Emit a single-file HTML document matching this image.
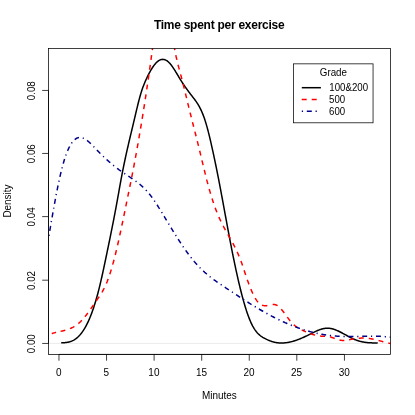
<!DOCTYPE html>
<html><head><meta charset="utf-8"><title>Time spent per exercise</title>
<style>
html,body{margin:0;padding:0;background:#fff;}
svg{display:block;will-change:transform;}
text{font-family:"Liberation Sans",sans-serif;fill:#000;}
</style></head>
<body>
<svg width="415" height="415" viewBox="0 0 415 415">
<rect x="0" y="0" width="415" height="415" fill="#ffffff"/>
<defs><clipPath id="plot"><rect x="48.50" y="48.50" width="342.00" height="305.90"/></clipPath></defs>
<line x1="48.50" y1="343.45" x2="390.50" y2="343.45" stroke="#bebebe" stroke-width="0.3"/>
<g clip-path="url(#plot)" fill="none" stroke-width="1.5" stroke-linecap="butt" stroke-linejoin="round">
<path d="M61.20 342.69 L61.70 342.70 L62.20 342.70 L62.70 342.70 L63.20 342.70 L63.70 342.68 L64.20 342.66 L64.70 342.64 L65.20 342.60 L65.70 342.55 L66.20 342.50 L66.70 342.43 L67.20 342.35 L67.70 342.26 L68.20 342.16 L68.70 342.05 L69.20 341.93 L69.70 341.79 L70.20 341.63 L70.70 341.46 L71.20 341.28 L71.70 341.08 L72.20 340.86 L72.70 340.62 L73.20 340.37 L73.70 340.10 L74.20 339.81 L74.70 339.50 L75.20 339.17 L75.70 338.82 L76.20 338.45 L76.70 338.05 L77.20 337.64 L77.70 337.20 L78.20 336.73 L78.70 336.25 L79.20 335.73 L79.70 335.20 L80.20 334.63 L80.70 334.04 L81.20 333.42 L81.70 332.78 L82.20 332.10 L82.70 331.40 L83.20 330.67 L83.70 329.90 L84.20 329.11 L84.70 328.29 L85.20 327.43 L85.70 326.54 L86.20 325.62 L86.70 324.66 L87.20 323.67 L87.70 322.65 L88.20 321.59 L88.70 320.49 L89.20 319.36 L89.70 318.19 L90.20 316.98 L90.70 315.73 L91.20 314.45 L91.70 313.12 L92.20 311.76 L92.70 310.35 L93.20 308.91 L93.70 307.42 L94.20 305.89 L94.70 304.31 L95.20 302.69 L95.70 301.03 L96.20 299.33 L96.70 297.57 L97.20 295.78 L97.70 293.93 L98.20 292.04 L98.70 290.10 L99.20 288.12 L99.70 286.08 L100.20 284.00 L100.70 281.87 L101.20 279.70 L101.70 277.49 L102.20 275.25 L102.70 272.98 L103.20 270.68 L103.70 268.35 L104.20 266.01 L104.70 263.64 L105.20 261.27 L105.70 258.88 L106.20 256.48 L106.70 254.08 L107.20 251.68 L107.70 249.27 L108.20 246.85 L108.70 244.43 L109.20 242.00 L109.70 239.56 L110.20 237.11 L110.70 234.64 L111.20 232.16 L111.70 229.67 L112.20 227.16 L112.70 224.64 L113.20 222.09 L113.70 219.53 L114.20 216.94 L114.70 214.33 L115.20 211.70 L115.70 209.04 L116.20 206.36 L116.70 203.64 L117.20 200.90 L117.70 198.13 L118.20 195.35 L118.70 192.55 L119.20 189.74 L119.70 186.95 L120.20 184.18 L120.70 181.43 L121.20 178.72 L121.70 176.06 L122.20 173.45 L122.70 170.89 L123.20 168.38 L123.70 165.92 L124.20 163.49 L124.70 161.10 L125.20 158.76 L125.70 156.44 L126.20 154.16 L126.70 151.91 L127.20 149.69 L127.70 147.49 L128.20 145.31 L128.70 143.16 L129.20 141.02 L129.70 138.90 L130.20 136.79 L130.70 134.68 L131.20 132.59 L131.70 130.50 L132.20 128.41 L132.70 126.32 L133.20 124.23 L133.70 122.13 L134.20 120.02 L134.70 117.90 L135.20 115.78 L135.70 113.65 L136.20 111.53 L136.70 109.42 L137.20 107.33 L137.70 105.27 L138.20 103.26 L138.70 101.28 L139.20 99.36 L139.70 97.50 L140.20 95.71 L140.70 94.00 L141.20 92.36 L141.70 90.80 L142.20 89.30 L142.70 87.87 L143.20 86.50 L143.70 85.19 L144.20 83.92 L144.70 82.71 L145.20 81.53 L145.70 80.40 L146.20 79.30 L146.70 78.22 L147.20 77.18 L147.70 76.15 L148.20 75.15 L148.70 74.17 L149.20 73.21 L149.70 72.28 L150.20 71.37 L150.70 70.49 L151.20 69.64 L151.70 68.81 L152.20 68.02 L152.70 67.25 L153.20 66.52 L153.70 65.81 L154.20 65.14 L154.70 64.50 L155.20 63.90 L155.70 63.33 L156.20 62.79 L156.70 62.30 L157.20 61.84 L157.70 61.42 L158.20 61.04 L158.70 60.69 L159.20 60.39 L159.70 60.13 L160.20 59.90 L160.70 59.72 L161.20 59.57 L161.70 59.47 L162.20 59.40 L162.70 59.37 L163.20 59.39 L163.70 59.44 L164.20 59.53 L164.70 59.67 L165.20 59.84 L165.70 60.05 L166.20 60.31 L166.70 60.60 L167.20 60.94 L167.70 61.32 L168.20 61.73 L168.70 62.19 L169.20 62.69 L169.70 63.23 L170.20 63.80 L170.70 64.40 L171.20 65.03 L171.70 65.70 L172.20 66.38 L172.70 67.10 L173.20 67.83 L173.70 68.59 L174.20 69.36 L174.70 70.15 L175.20 70.96 L175.70 71.77 L176.20 72.60 L176.70 73.43 L177.20 74.26 L177.70 75.10 L178.20 75.94 L178.70 76.78 L179.20 77.62 L179.70 78.45 L180.20 79.27 L180.70 80.09 L181.20 80.89 L181.70 81.68 L182.20 82.45 L182.70 83.22 L183.20 83.97 L183.70 84.72 L184.20 85.45 L184.70 86.18 L185.20 86.90 L185.70 87.60 L186.20 88.30 L186.70 89.00 L187.20 89.68 L187.70 90.36 L188.20 91.04 L188.70 91.71 L189.20 92.37 L189.70 93.03 L190.20 93.69 L190.70 94.35 L191.20 95.00 L191.70 95.65 L192.20 96.30 L192.70 96.95 L193.20 97.59 L193.70 98.24 L194.20 98.90 L194.70 99.56 L195.20 100.24 L195.70 100.93 L196.20 101.64 L196.70 102.37 L197.20 103.12 L197.70 103.90 L198.20 104.71 L198.70 105.56 L199.20 106.43 L199.70 107.35 L200.20 108.31 L200.70 109.31 L201.20 110.37 L201.70 111.47 L202.20 112.63 L202.70 113.84 L203.20 115.11 L203.70 116.45 L204.20 117.85 L204.70 119.32 L205.20 120.86 L205.70 122.47 L206.20 124.14 L206.70 125.88 L207.20 127.67 L207.70 129.52 L208.20 131.43 L208.70 133.38 L209.20 135.39 L209.70 137.44 L210.20 139.54 L210.70 141.67 L211.20 143.85 L211.70 146.06 L212.20 148.30 L212.70 150.58 L213.20 152.88 L213.70 155.21 L214.20 157.56 L214.70 159.93 L215.20 162.32 L215.70 164.73 L216.20 167.16 L216.70 169.62 L217.20 172.10 L217.70 174.60 L218.20 177.13 L218.70 179.69 L219.20 182.28 L219.70 184.89 L220.20 187.53 L220.70 190.19 L221.20 192.86 L221.70 195.55 L222.20 198.25 L222.70 200.95 L223.20 203.67 L223.70 206.38 L224.20 209.10 L224.70 211.82 L225.20 214.54 L225.70 217.25 L226.20 219.97 L226.70 222.67 L227.20 225.37 L227.70 228.06 L228.20 230.74 L228.70 233.40 L229.20 236.05 L229.70 238.69 L230.20 241.31 L230.70 243.91 L231.20 246.48 L231.70 249.04 L232.20 251.57 L232.70 254.08 L233.20 256.56 L233.70 259.02 L234.20 261.45 L234.70 263.85 L235.20 266.22 L235.70 268.57 L236.20 270.88 L236.70 273.17 L237.20 275.42 L237.70 277.64 L238.20 279.83 L238.70 281.99 L239.20 284.11 L239.70 286.20 L240.20 288.25 L240.70 290.27 L241.20 292.25 L241.70 294.19 L242.20 296.10 L242.70 297.97 L243.20 299.79 L243.70 301.58 L244.20 303.32 L244.70 305.03 L245.20 306.69 L245.70 308.31 L246.20 309.88 L246.70 311.41 L247.20 312.90 L247.70 314.34 L248.20 315.73 L248.70 317.08 L249.20 318.37 L249.70 319.62 L250.20 320.82 L250.70 321.97 L251.20 323.07 L251.70 324.11 L252.20 325.11 L252.70 326.06 L253.20 326.96 L253.70 327.81 L254.20 328.62 L254.70 329.39 L255.20 330.12 L255.70 330.81 L256.20 331.46 L256.70 332.07 L257.20 332.65 L257.70 333.20 L258.20 333.72 L258.70 334.21 L259.20 334.68 L259.70 335.11 L260.20 335.52 L260.70 335.91 L261.20 336.28 L261.70 336.63 L262.20 336.96 L262.70 337.28 L263.20 337.58 L263.70 337.87 L264.20 338.15 L264.70 338.42 L265.20 338.68 L265.70 338.94 L266.20 339.18 L266.70 339.43 L267.20 339.66 L267.70 339.89 L268.20 340.11 L268.70 340.32 L269.20 340.53 L269.70 340.73 L270.20 340.92 L270.70 341.10 L271.20 341.27 L271.70 341.44 L272.20 341.60 L272.70 341.75 L273.20 341.89 L273.70 342.02 L274.20 342.15 L274.70 342.26 L275.20 342.37 L275.70 342.47 L276.20 342.56 L276.70 342.64 L277.20 342.71 L277.70 342.77 L278.20 342.83 L278.70 342.88 L279.20 342.92 L279.70 342.95 L280.20 342.97 L280.70 342.99 L281.20 343.00 L281.70 343.00 L282.20 343.00 L282.70 342.98 L283.20 342.96 L283.70 342.94 L284.20 342.90 L284.70 342.86 L285.20 342.81 L285.70 342.76 L286.20 342.70 L286.70 342.63 L287.20 342.56 L287.70 342.48 L288.20 342.39 L288.70 342.30 L289.20 342.20 L289.70 342.10 L290.20 341.99 L290.70 341.88 L291.20 341.76 L291.70 341.63 L292.20 341.50 L292.70 341.36 L293.20 341.22 L293.70 341.07 L294.20 340.92 L294.70 340.76 L295.20 340.60 L295.70 340.44 L296.20 340.27 L296.70 340.09 L297.20 339.91 L297.70 339.73 L298.20 339.54 L298.70 339.35 L299.20 339.15 L299.70 338.95 L300.20 338.75 L300.70 338.54 L301.20 338.33 L301.70 338.12 L302.20 337.90 L302.70 337.68 L303.20 337.46 L303.70 337.23 L304.20 337.00 L304.70 336.77 L305.20 336.53 L305.70 336.30 L306.20 336.06 L306.70 335.81 L307.20 335.57 L307.70 335.32 L308.20 335.07 L308.70 334.82 L309.20 334.57 L309.70 334.31 L310.20 334.06 L310.70 333.80 L311.20 333.55 L311.70 333.30 L312.20 333.05 L312.70 332.80 L313.20 332.55 L313.70 332.30 L314.20 332.06 L314.70 331.82 L315.20 331.59 L315.70 331.36 L316.20 331.13 L316.70 330.91 L317.20 330.69 L317.70 330.48 L318.20 330.28 L318.70 330.08 L319.20 329.89 L319.70 329.71 L320.20 329.54 L320.70 329.37 L321.20 329.22 L321.70 329.07 L322.20 328.94 L322.70 328.81 L323.20 328.69 L323.70 328.59 L324.20 328.49 L324.70 328.41 L325.20 328.34 L325.70 328.29 L326.20 328.24 L326.70 328.22 L327.20 328.20 L327.70 328.20 L328.20 328.21 L328.70 328.24 L329.20 328.28 L329.70 328.34 L330.20 328.41 L330.70 328.49 L331.20 328.59 L331.70 328.70 L332.20 328.82 L332.70 328.95 L333.20 329.09 L333.70 329.24 L334.20 329.40 L334.70 329.58 L335.20 329.76 L335.70 329.95 L336.20 330.15 L336.70 330.35 L337.20 330.57 L337.70 330.79 L338.20 331.01 L338.70 331.25 L339.20 331.49 L339.70 331.73 L340.20 331.98 L340.70 332.24 L341.20 332.50 L341.70 332.76 L342.20 333.02 L342.70 333.29 L343.20 333.56 L343.70 333.84 L344.20 334.11 L344.70 334.39 L345.20 334.66 L345.70 334.94 L346.20 335.22 L346.70 335.50 L347.20 335.77 L347.70 336.05 L348.20 336.32 L348.70 336.59 L349.20 336.86 L349.70 337.12 L350.20 337.38 L350.70 337.64 L351.20 337.90 L351.70 338.15 L352.20 338.39 L352.70 338.63 L353.20 338.86 L353.70 339.09 L354.20 339.31 L354.70 339.52 L355.20 339.72 L355.70 339.92 L356.20 340.11 L356.70 340.29 L357.20 340.46 L357.70 340.63 L358.20 340.79 L358.70 340.94 L359.20 341.09 L359.70 341.22 L360.20 341.36 L360.70 341.48 L361.20 341.60 L361.70 341.71 L362.20 341.82 L362.70 341.92 L363.20 342.01 L363.70 342.10 L364.20 342.19 L364.70 342.27 L365.20 342.34 L365.70 342.41 L366.20 342.47 L366.70 342.53 L367.20 342.58 L367.70 342.63 L368.20 342.67 L368.70 342.71 L369.20 342.75 L369.70 342.78 L370.20 342.81 L370.70 342.83 L371.20 342.86 L371.70 342.87 L372.20 342.89 L372.70 342.90 L373.20 342.91 L373.70 342.91 L374.20 342.91 L374.70 342.91 L375.20 342.91 L375.70 342.91 L376.20 342.90 L376.70 342.89 L377.20 342.88 L377.70 342.87" stroke="#000000"/>
<path d="M45.00 336.51 L45.44 336.26 L45.87 336.02 L46.32 335.79 L46.76 335.57 L47.21 335.35 M51.73 333.58 L52.20 333.43 L52.68 333.28 L53.16 333.14 L53.64 333.01 L54.12 332.87 L54.61 332.75 L55.09 332.62 L55.58 332.50 L56.06 332.38 L56.11 332.37 M60.65 331.35 L61.13 331.24 L61.62 331.12 L62.11 331.01 L62.60 330.90 L63.08 330.78 L63.57 330.66 L64.05 330.54 L64.54 330.41 L65.02 330.28 L65.31 330.20 M70.04 328.59 L70.50 328.40 L70.96 328.20 L71.41 327.99 L71.86 327.78 L72.31 327.56 L72.76 327.33 L73.20 327.09 L73.64 326.85 L74.07 326.60 L74.37 326.42 M78.36 323.59 L78.74 323.27 L79.12 322.94 L79.50 322.61 L79.86 322.27 L80.23 321.92 L80.59 321.58 L80.94 321.23 L81.29 320.87 L81.64 320.51 L81.78 320.36 M84.90 316.78 L85.21 316.40 L85.52 316.00 L85.83 315.61 L86.14 315.22 L86.45 314.82 L86.75 314.43 L87.06 314.03 L87.36 313.63 L87.66 313.23 L87.81 313.03 M90.70 309.01 L90.98 308.60 L91.27 308.19 L91.55 307.78 L91.84 307.37 L92.12 306.96 L92.40 306.54 L92.69 306.13 L92.97 305.72 L93.25 305.31 L93.48 304.98 M96.32 300.80 L96.60 300.39 L96.88 299.97 L97.16 299.56 L97.45 299.15 L97.73 298.74 L98.01 298.32 L98.29 297.91 L98.58 297.50 L98.86 297.09 L99.11 296.71 M101.84 292.46 L102.10 292.04 L102.35 291.60 L102.60 291.17 L102.85 290.74 L103.09 290.30 L103.33 289.86 L103.57 289.42 L103.80 288.98 L104.03 288.54 L104.24 288.14 M106.37 283.56 L106.56 283.10 L106.75 282.63 L106.94 282.17 L107.13 281.71 L107.31 281.24 L107.49 280.78 L107.67 280.31 L107.85 279.84 L108.02 279.37 L108.18 278.95 M109.83 274.18 L109.98 273.70 L110.13 273.23 L110.29 272.75 L110.44 272.27 L110.59 271.80 L110.73 271.32 L110.88 270.84 L111.03 270.36 L111.17 269.88 L111.30 269.45 M112.70 264.60 L112.84 264.12 L112.97 263.64 L113.10 263.16 L113.23 262.67 L113.37 262.19 L113.50 261.71 L113.62 261.23 L113.75 260.74 L113.88 260.26 L114.00 259.82 M115.24 254.93 L115.37 254.45 L115.49 253.96 L115.60 253.47 L115.72 252.99 L115.84 252.50 L115.96 252.02 L116.08 251.53 L116.19 251.04 L116.31 250.56 L116.41 250.12 M117.56 245.20 L117.68 244.72 L117.79 244.23 L117.90 243.74 L118.01 243.25 L118.12 242.77 L118.23 242.28 L118.34 241.79 L118.45 241.30 L118.56 240.81 L118.66 240.38 M119.74 235.44 L119.85 234.95 L119.95 234.47 L120.06 233.98 L120.16 233.49 L120.27 233.00 L120.38 232.51 L120.48 232.02 L120.58 231.53 L120.69 231.04 L120.78 230.60 M121.82 225.71 L121.92 225.22 L122.02 224.73 L122.13 224.24 L122.23 223.76 L122.33 223.27 L122.43 222.78 L122.53 222.29 L122.64 221.80 L122.74 221.31 L122.82 220.92 M123.83 216.02 L123.93 215.53 L124.03 215.04 L124.13 214.55 L124.23 214.06 L124.34 213.57 L124.44 213.08 L124.54 212.59 L124.64 212.10 L124.74 211.61 L124.82 211.22 M125.81 206.37 L125.91 205.88 L126.01 205.39 L126.11 204.90 L126.21 204.41 L126.31 203.92 L126.41 203.43 L126.51 202.94 L126.61 202.45 L126.71 201.96 L126.79 201.57 M127.79 196.67 L127.89 196.18 L127.99 195.69 L128.09 195.20 L128.19 194.71 L128.29 194.22 L128.39 193.73 L128.49 193.24 L128.59 192.75 L128.69 192.26 L128.77 191.87 M129.77 186.97 L129.87 186.48 L129.97 185.99 L130.07 185.50 L130.16 185.01 L130.26 184.52 L130.36 184.03 L130.46 183.54 L130.56 183.05 L130.66 182.56 L130.73 182.17 M131.71 177.26 L131.80 176.77 L131.90 176.28 L132.00 175.79 L132.09 175.30 L132.19 174.81 L132.28 174.32 L132.38 173.83 L132.47 173.34 L132.57 172.84 L132.64 172.45 M133.59 167.54 L133.68 167.05 L133.77 166.56 L133.87 166.07 L133.96 165.58 L134.05 165.09 L134.14 164.59 L134.24 164.10 L134.33 163.61 L134.42 163.12 L134.49 162.73 M135.41 157.81 L135.50 157.32 L135.59 156.83 L135.68 156.33 L135.77 155.84 L135.86 155.35 L135.95 154.86 L136.04 154.37 L136.13 153.88 L136.21 153.38 L136.29 152.99 M137.17 148.07 L137.26 147.58 L137.35 147.08 L137.43 146.59 L137.52 146.10 L137.61 145.61 L137.70 145.12 L137.78 144.62 L137.87 144.13 L137.96 143.64 L138.02 143.24 M138.88 138.32 L138.97 137.83 L139.05 137.33 L139.14 136.84 L139.22 136.35 L139.31 135.85 L139.39 135.36 L139.48 134.87 L139.56 134.38 L139.64 133.88 L139.71 133.49 M140.55 128.56 L140.63 128.07 L140.71 127.57 L140.79 127.08 L140.88 126.59 L140.96 126.09 L141.04 125.60 L141.12 125.11 L141.20 124.61 L141.28 124.12 L141.35 123.73 M142.16 118.79 L142.24 118.30 L142.32 117.80 L142.40 117.31 L142.48 116.82 L142.56 116.32 L142.64 115.83 L142.72 115.34 L142.80 114.84 L142.88 114.35 L142.94 113.95 M143.73 109.02 L143.81 108.52 L143.89 108.03 L143.96 107.53 L144.04 107.04 L144.12 106.55 L144.20 106.05 L144.27 105.56 L144.35 105.06 L144.43 104.57 L144.49 104.18 M145.25 99.23 L145.33 98.74 L145.41 98.25 L145.48 97.75 L145.56 97.26 L145.63 96.76 L145.71 96.27 L145.78 95.77 L145.86 95.28 L145.93 94.79 L146.00 94.34 M146.74 89.40 L146.82 88.90 L146.89 88.41 L146.96 87.91 L147.04 87.42 L147.11 86.92 L147.18 86.43 L147.25 85.93 L147.33 85.44 L147.40 84.94 L147.46 84.55 M148.19 79.55 L148.26 79.06 L148.33 78.56 L148.40 78.07 L148.47 77.57 L148.54 77.08 L148.61 76.58 L148.68 76.09 L148.76 75.59 L148.83 75.10 L148.88 74.70 M149.58 69.75 L149.65 69.26 L149.72 68.76 L149.79 68.27 L149.86 67.77 L149.93 67.27 L150.00 66.78 L150.07 66.28 L150.14 65.79 L150.21 65.29 L150.26 64.90 M150.95 59.90 L151.02 59.40 L151.09 58.90 L151.16 58.41 L151.22 57.91 L151.29 57.42 L151.36 56.92 L151.43 56.43 L151.50 55.93 L151.56 55.44 L151.62 55.04 M152.29 50.09 L152.36 49.59 L152.43 49.10 L152.50 48.60 L152.56 48.10 L152.63 47.61 L152.70 47.11 L152.76 46.62 L152.83 46.12 L152.90 45.63 L152.96 45.18 M173.96 45.28 L174.04 45.78 L174.13 46.27 L174.22 46.76 L174.30 47.25 L174.39 47.75 L174.48 48.24 L174.57 48.73 L174.66 49.22 L174.75 49.71 L174.83 50.16 M175.81 55.06 L175.91 55.55 L176.01 56.04 L176.12 56.53 L176.22 57.02 L176.33 57.50 L176.44 57.99 L176.55 58.48 L176.66 58.97 L176.77 59.45 L176.88 59.89 M178.07 64.75 L178.19 65.23 L178.31 65.72 L178.44 66.20 L178.57 66.68 L178.69 67.17 L178.82 67.65 L178.95 68.14 L179.08 68.62 L179.21 69.10 L179.32 69.54 M180.62 74.36 L180.75 74.85 L180.88 75.33 L181.01 75.81 L181.14 76.30 L181.27 76.78 L181.39 77.26 L181.52 77.75 L181.64 78.23 L181.77 78.72 L181.88 79.15 M183.10 83.95 L183.23 84.43 L183.35 84.92 L183.47 85.40 L183.59 85.89 L183.71 86.37 L183.83 86.86 L183.95 87.34 L184.07 87.83 L184.19 88.32 L184.27 88.66 M185.45 93.46 L185.57 93.95 L185.69 94.44 L185.80 94.92 L185.92 95.41 L186.04 95.89 L186.16 96.38 L186.27 96.86 L186.39 97.35 L186.51 97.84 L186.59 98.18 M187.77 103.04 L187.89 103.52 L188.00 104.01 L188.12 104.49 L188.24 104.98 L188.36 105.47 L188.48 105.95 L188.59 106.44 L188.71 106.92 L188.83 107.41 L188.91 107.75 M190.09 112.56 L190.21 113.04 L190.33 113.53 L190.45 114.01 L190.58 114.50 L190.70 114.98 L190.82 115.47 L190.94 115.95 L191.06 116.44 L191.18 116.92 L191.27 117.26 M192.48 122.06 L192.60 122.55 L192.73 123.03 L192.85 123.52 L192.97 124.00 L193.10 124.48 L193.22 124.97 L193.34 125.45 L193.47 125.94 L193.59 126.42 L193.68 126.76 M194.91 131.61 L195.04 132.09 L195.16 132.58 L195.28 133.06 L195.41 133.54 L195.53 134.03 L195.65 134.51 L195.78 135.00 L195.90 135.48 L196.02 135.97 L196.11 136.31 M197.32 141.16 L197.44 141.64 L197.56 142.13 L197.68 142.61 L197.80 143.10 L197.92 143.58 L198.04 144.07 L198.16 144.55 L198.28 145.04 L198.40 145.53 L198.48 145.87 M199.66 150.73 L199.78 151.21 L199.90 151.70 L200.01 152.18 L200.13 152.67 L200.25 153.16 L200.36 153.64 L200.48 154.13 L200.60 154.61 L200.71 155.10 L200.81 155.49 M201.96 160.30 L202.07 160.79 L202.19 161.28 L202.31 161.76 L202.42 162.25 L202.54 162.74 L202.66 163.22 L202.77 163.71 L202.89 164.19 L203.01 164.68 L203.10 165.07 M204.28 169.93 L204.40 170.41 L204.52 170.90 L204.64 171.38 L204.76 171.87 L204.88 172.36 L205.00 172.84 L205.12 173.33 L205.24 173.81 L205.36 174.30 L205.44 174.64 M206.67 179.48 L206.79 179.97 L206.92 180.45 L207.04 180.94 L207.17 181.42 L207.30 181.90 L207.42 182.39 L207.55 182.87 L207.68 183.35 L207.81 183.84 L207.90 184.18 M209.22 189.00 L209.35 189.48 L209.49 189.96 L209.63 190.44 L209.76 190.92 L209.90 191.40 L210.04 191.88 L210.18 192.36 L210.32 192.84 L210.46 193.32 L210.58 193.71 M212.02 198.44 L212.17 198.92 L212.32 199.39 L212.47 199.87 L212.63 200.35 L212.78 200.82 L212.94 201.30 L213.09 201.77 L213.25 202.25 L213.41 202.72 L213.54 203.10 M215.19 207.82 L215.36 208.29 L215.53 208.76 L215.71 209.23 L215.88 209.69 L216.06 210.16 L216.24 210.63 L216.42 211.10 L216.60 211.56 L216.79 212.03 L216.91 212.35 M218.85 216.96 L219.05 217.42 L219.26 217.88 L219.46 218.33 L219.67 218.79 L219.88 219.24 L220.09 219.69 L220.30 220.15 L220.51 220.60 L220.73 221.05 L220.88 221.37 M223.13 225.83 L223.36 226.27 L223.60 226.71 L223.83 227.16 L224.07 227.60 L224.31 228.04 L224.55 228.47 L224.79 228.91 L225.03 229.35 L225.27 229.79 L225.46 230.14 M227.90 234.45 L228.15 234.88 L228.40 235.31 L228.65 235.75 L228.90 236.18 L229.14 236.62 L229.39 237.05 L229.64 237.49 L229.89 237.92 L230.13 238.35 L230.33 238.70 M232.75 243.08 L232.99 243.52 L233.22 243.96 L233.46 244.40 L233.69 244.84 L233.92 245.29 L234.15 245.73 L234.38 246.18 L234.61 246.62 L234.83 247.07 L234.99 247.38 M237.15 251.89 L237.36 252.34 L237.56 252.80 L237.77 253.26 L237.97 253.71 L238.17 254.17 L238.37 254.63 L238.56 255.09 L238.76 255.55 L238.95 256.01 L239.09 256.33 M240.92 260.99 L241.10 261.45 L241.27 261.92 L241.44 262.39 L241.61 262.86 L241.78 263.33 L241.95 263.80 L242.12 264.28 L242.28 264.75 L242.44 265.22 L242.57 265.60 M244.13 270.30 L244.29 270.77 L244.45 271.25 L244.60 271.72 L244.76 272.20 L244.91 272.67 L245.07 273.15 L245.22 273.62 L245.38 274.10 L245.54 274.57 L245.66 274.95 M247.30 279.73 L247.46 280.20 L247.63 280.67 L247.80 281.14 L247.97 281.61 L248.14 282.08 L248.31 282.55 L248.48 283.02 L248.65 283.49 L248.83 283.96 L248.99 284.38 M250.84 289.08 L251.03 289.54 L251.22 290.00 L251.42 290.46 L251.62 290.92 L251.82 291.38 L252.02 291.84 L252.22 292.29 L252.43 292.75 L252.64 293.20 L252.83 293.61 M255.17 298.09 L255.42 298.52 L255.69 298.94 L255.95 299.36 L256.23 299.78 L256.51 300.20 L256.79 300.61 L257.09 301.01 L257.40 301.40 L257.71 301.79 L258.01 302.13 M262.07 305.13 L262.54 305.30 L263.02 305.44 L263.51 305.55 L264.00 305.63 L264.50 305.69 L265.00 305.72 L265.50 305.72 L266.00 305.71 L266.50 305.67 L266.99 305.62 L267.34 305.57 M272.69 304.53 L273.19 304.48 L273.69 304.47 L274.18 304.49 L274.68 304.55 L275.17 304.65 L275.65 304.80 L276.12 304.98 L276.57 305.19 L277.01 305.43 L277.43 305.69 L277.52 305.75 M281.23 309.15 L281.56 309.53 L281.88 309.91 L282.20 310.29 L282.51 310.68 L282.83 311.07 L283.14 311.46 L283.44 311.86 L283.75 312.26 L284.05 312.66 L284.32 313.02 M287.30 317.09 L287.59 317.50 L287.89 317.90 L288.19 318.30 L288.49 318.70 L288.79 319.10 L289.09 319.50 L289.40 319.89 L289.71 320.28 L290.02 320.68 L290.30 321.02 M293.75 324.71 L294.12 325.04 L294.50 325.37 L294.88 325.69 L295.27 326.01 L295.67 326.31 L296.06 326.61 L296.47 326.91 L296.88 327.20 L297.29 327.48 L297.54 327.64 M301.69 329.95 L302.14 330.16 L302.60 330.37 L303.05 330.57 L303.51 330.78 L303.97 330.98 L304.43 331.17 L304.89 331.37 L305.35 331.56 L305.81 331.76 L306.00 331.83 M310.41 333.59 L310.88 333.77 L311.35 333.93 L311.82 334.10 L312.29 334.26 L312.77 334.42 L313.24 334.57 L313.72 334.72 L314.20 334.86 L314.68 335.00 L315.12 335.12 M320.07 336.06 L320.57 336.11 L321.07 336.15 L321.57 336.18 L322.06 336.21 L322.56 336.23 L323.06 336.24 L323.56 336.26 L324.06 336.28 L324.56 336.29 L325.01 336.31 M330.02 336.88 L330.51 337.01 L330.99 337.14 L331.47 337.29 L331.94 337.45 L332.41 337.61 L332.88 337.78 L333.35 337.96 L333.82 338.14 L334.28 338.32 L334.70 338.48 M339.49 340.06 L339.98 340.16 L340.48 340.24 L340.97 340.30 L341.47 340.35 L341.97 340.38 L342.47 340.40 L342.97 340.41 L343.47 340.41 L343.97 340.39 L344.32 340.38 M349.12 339.75 L349.62 339.66 L350.11 339.57 L350.60 339.47 L351.09 339.38 L351.58 339.28 L352.07 339.19 L352.56 339.09 L353.05 339.00 L353.55 338.92 L353.84 338.86 M358.80 338.23 L359.30 338.19 L359.80 338.16 L360.30 338.13 L360.80 338.10 L361.30 338.08 L361.80 338.07 L362.29 338.06 L362.79 338.05 L363.29 338.05 L363.74 338.06 M368.78 338.42 L369.27 338.48 L369.77 338.56 L370.26 338.63 L370.76 338.71 L371.25 338.80 L371.74 338.89 L372.23 338.99 L372.72 339.08 L373.21 339.19 L373.65 339.28 M378.56 340.49 L379.04 340.62 L379.52 340.75 L380.00 340.88 L380.49 341.01 L380.97 341.14 L381.45 341.27 L381.93 341.40 L382.42 341.54 L382.90 341.67 L383.33 341.78 M388.23 343.03 L388.71 343.14 L389.20 343.25 L389.69 343.36 L390.18 343.46 L390.67 343.56 L391.16 343.65 L391.65 343.74 L392.14 343.83 L392.64 343.91 L393.08 343.98" stroke="#ff0000"/>
<path d="M44.00 262.45 L44.10 261.96 L44.18 261.57 M44.92 257.84 L45.01 257.35 L45.10 256.86 L45.20 256.37 L45.29 255.88 L45.39 255.39 L45.48 254.90 L45.57 254.41 L45.66 253.91 L45.76 253.42 L45.84 252.98 M46.52 249.24 L46.61 248.75 L46.70 248.26 L46.74 248.06 M47.41 244.32 L47.49 243.83 L47.58 243.34 L47.67 242.84 L47.75 242.35 L47.84 241.86 L47.93 241.37 L48.01 240.87 L48.10 240.38 L48.19 239.89 L48.26 239.45 M48.90 235.75 L48.99 235.26 L49.07 234.77 L49.11 234.57 M49.75 230.82 L49.84 230.33 L49.92 229.84 L50.01 229.35 L50.09 228.85 L50.18 228.36 L50.26 227.87 L50.35 227.37 L50.43 226.88 L50.52 226.39 L50.59 225.95 M51.24 222.20 L51.33 221.71 L51.41 221.22 L51.45 221.02 M52.10 217.28 L52.18 216.78 L52.27 216.29 L52.36 215.80 L52.44 215.31 L52.53 214.81 L52.62 214.32 L52.71 213.83 L52.79 213.34 L52.88 212.84 L52.95 212.45 M53.62 208.71 L53.71 208.22 L53.80 207.73 L53.83 207.53 M54.51 203.79 L54.60 203.30 L54.69 202.81 L54.78 202.31 L54.87 201.82 L54.97 201.33 L55.06 200.84 L55.15 200.35 L55.24 199.86 L55.33 199.37 L55.42 198.92 M56.12 195.19 L56.22 194.70 L56.31 194.21 L56.35 194.01 M57.07 190.33 L57.17 189.84 L57.27 189.35 L57.37 188.86 L57.46 188.37 L57.56 187.88 L57.66 187.39 L57.76 186.90 L57.86 186.41 L57.96 185.92 L58.05 185.48 M58.83 181.76 L58.94 181.27 L59.04 180.78 L59.09 180.59 M59.90 176.88 L60.02 176.39 L60.13 175.90 L60.24 175.41 L60.35 174.93 L60.46 174.44 L60.58 173.95 L60.69 173.47 L60.81 172.98 L60.92 172.49 L61.03 172.06 M61.95 168.37 L62.07 167.88 L62.20 167.40 L62.23 167.26 M63.22 163.64 L63.36 163.16 L63.50 162.68 L63.64 162.20 L63.78 161.72 L63.92 161.24 L64.07 160.76 L64.21 160.28 L64.36 159.80 L64.51 159.33 L64.60 159.04 M65.79 155.48 L65.96 155.01 L66.13 154.54 L66.18 154.40 M67.55 150.91 L67.74 150.45 L67.94 149.99 L68.14 149.53 L68.35 149.08 L68.56 148.62 L68.77 148.17 L68.99 147.72 L69.21 147.27 L69.44 146.83 L69.60 146.52 M71.49 143.34 L71.77 142.92 L72.06 142.52 L72.18 142.36 M74.67 139.63 L75.06 139.32 L75.46 139.02 L75.87 138.74 L76.30 138.48 L76.75 138.25 L77.20 138.04 L77.67 137.86 L78.15 137.72 L78.63 137.61 L78.98 137.55 M82.72 137.98 L83.19 138.16 L83.65 138.35 L83.83 138.44 M87.05 140.44 L87.45 140.74 L87.84 141.05 L88.22 141.37 L88.60 141.70 L88.98 142.02 L89.35 142.36 L89.72 142.69 L90.09 143.03 L90.45 143.38 L90.78 143.69 M93.48 146.43 L93.83 146.79 L94.17 147.15 L94.31 147.30 M96.93 150.05 L97.27 150.41 L97.62 150.77 L97.97 151.13 L98.32 151.49 L98.67 151.85 L99.02 152.20 L99.37 152.56 L99.72 152.91 L100.08 153.27 L100.40 153.58 M103.08 156.21 L103.44 156.55 L103.80 156.90 L103.91 157.00 M106.62 159.52 L106.99 159.85 L107.36 160.19 L107.74 160.52 L108.11 160.85 L108.48 161.19 L108.86 161.52 L109.23 161.85 L109.61 162.17 L109.99 162.50 L110.25 162.73 M113.16 165.17 L113.55 165.49 L113.94 165.81 L114.09 165.93 M117.08 168.28 L117.48 168.58 L117.88 168.88 L118.28 169.18 L118.68 169.48 L119.08 169.78 L119.48 170.08 L119.89 170.37 L120.29 170.66 L120.70 170.96 L121.07 171.22 M124.20 173.37 L124.61 173.65 L125.03 173.93 L125.19 174.04 M128.37 176.12 L128.79 176.40 L129.21 176.67 L129.62 176.95 L130.04 177.22 L130.46 177.50 L130.87 177.78 L131.29 178.06 L131.70 178.33 L132.12 178.61 L132.45 178.84 M135.56 181.03 L135.96 181.32 L136.36 181.62 L136.52 181.74 M139.51 184.09 L139.89 184.40 L140.28 184.73 L140.66 185.05 L141.04 185.38 L141.41 185.71 L141.79 186.04 L142.16 186.38 L142.53 186.71 L142.89 187.05 L143.22 187.36 M145.90 190.05 L146.25 190.42 L146.59 190.78 L146.72 190.93 M149.21 193.80 L149.52 194.19 L149.84 194.58 L150.15 194.97 L150.46 195.37 L150.76 195.76 L151.06 196.16 L151.37 196.56 L151.66 196.96 L151.96 197.36 L152.17 197.64 M154.30 200.67 L154.58 201.08 L154.86 201.49 L154.97 201.66 M157.00 204.75 L157.27 205.17 L157.54 205.59 L157.81 206.02 L158.08 206.44 L158.35 206.86 L158.61 207.29 L158.88 207.71 L159.14 208.13 L159.41 208.56 L159.59 208.86 M161.55 212.05 L161.81 212.48 L162.07 212.91 L162.14 213.04 M164.08 216.25 L164.34 216.68 L164.60 217.11 L164.85 217.53 L165.11 217.96 L165.37 218.39 L165.63 218.82 L165.88 219.25 L166.14 219.68 L166.40 220.11 L166.55 220.36 M168.49 223.57 L168.75 224.00 L169.01 224.43 L169.09 224.56 M171.04 227.76 L171.30 228.19 L171.56 228.61 L171.82 229.04 L172.08 229.46 L172.35 229.89 L172.61 230.32 L172.87 230.74 L173.13 231.17 L173.40 231.59 L173.58 231.89 M175.54 235.03 L175.81 235.45 L176.07 235.87 L176.15 236.00 M178.17 239.16 L178.44 239.58 L178.71 240.00 L178.98 240.42 L179.25 240.84 L179.53 241.26 L179.80 241.68 L180.07 242.10 L180.35 242.52 L180.62 242.93 L180.82 243.23 M182.88 246.30 L183.16 246.71 L183.44 247.13 L183.55 247.29 M185.67 250.33 L185.96 250.74 L186.25 251.14 L186.54 251.55 L186.83 251.96 L187.12 252.36 L187.42 252.77 L187.71 253.17 L188.01 253.57 L188.30 253.97 L188.54 254.30 M190.78 257.24 L191.09 257.63 L191.40 258.03 L191.52 258.18 M193.89 261.09 L194.21 261.48 L194.54 261.86 L194.86 262.24 L195.19 262.61 L195.52 262.99 L195.85 263.37 L196.18 263.74 L196.51 264.11 L196.85 264.48 L197.08 264.74 M199.66 267.46 L200.01 267.82 L200.37 268.17 L200.51 268.32 M203.18 270.88 L203.54 271.22 L203.91 271.56 L204.28 271.89 L204.65 272.23 L205.03 272.56 L205.40 272.89 L205.78 273.22 L206.16 273.55 L206.54 273.87 L206.84 274.13 M209.74 276.51 L210.13 276.83 L210.52 277.13 L210.64 277.23 M213.62 279.50 L214.03 279.79 L214.43 280.09 L214.84 280.38 L215.24 280.67 L215.65 280.97 L216.05 281.26 L216.46 281.55 L216.87 281.83 L217.28 282.12 L217.57 282.32 M220.66 284.44 L221.07 284.72 L221.49 285.00 L221.65 285.11 M224.77 287.20 L225.19 287.47 L225.60 287.75 L226.02 288.03 L226.44 288.30 L226.85 288.58 L227.27 288.86 L227.69 289.13 L228.10 289.41 L228.52 289.68 L228.81 289.88 M231.94 291.95 L232.36 292.22 L232.78 292.50 L232.90 292.58 M236.04 294.64 L236.46 294.91 L236.87 295.18 L237.29 295.46 L237.71 295.73 L238.13 296.00 L238.55 296.27 L238.97 296.55 L239.39 296.82 L239.81 297.09 L240.10 297.28 M243.26 299.31 L243.68 299.58 L244.10 299.85 L244.27 299.95 M247.44 301.96 L247.86 302.23 L248.28 302.49 L248.71 302.76 L249.13 303.02 L249.56 303.29 L249.98 303.55 L250.41 303.81 L250.83 304.08 L251.26 304.34 L251.55 304.52 M254.75 306.48 L255.18 306.74 L255.61 306.99 L255.74 307.07 M258.96 308.99 L259.39 309.24 L259.82 309.50 L260.26 309.75 L260.69 310.00 L261.12 310.25 L261.55 310.50 L261.99 310.75 L262.42 311.00 L262.85 311.25 L263.20 311.45 M266.43 313.26 L266.86 313.50 L267.30 313.74 L267.48 313.84 M270.77 315.63 L271.22 315.86 L271.66 316.09 L272.10 316.33 L272.54 316.56 L272.99 316.79 L273.43 317.02 L273.88 317.25 L274.32 317.48 L274.77 317.70 L275.08 317.86 M278.43 319.53 L278.88 319.75 L279.33 319.97 L279.51 320.06 M282.86 321.63 L283.32 321.84 L283.77 322.04 L284.23 322.25 L284.69 322.45 L285.14 322.66 L285.60 322.86 L286.06 323.06 L286.52 323.26 L286.97 323.46 L287.34 323.62 M290.80 325.06 L291.27 325.25 L291.73 325.44 L291.87 325.49 M295.37 326.84 L295.84 327.02 L296.30 327.19 L296.77 327.36 L297.24 327.54 L297.71 327.70 L298.18 327.87 L298.66 328.04 L299.13 328.20 L299.60 328.37 L299.93 328.48 M303.49 329.66 L303.97 329.81 L304.45 329.96 L304.64 330.02 M308.18 331.07 L308.66 331.21 L309.15 331.34 L309.63 331.48 L310.11 331.61 L310.59 331.74 L311.08 331.86 L311.56 331.99 L312.05 332.12 L312.53 332.24 L312.92 332.34 M316.57 333.20 L317.06 333.31 L317.54 333.41 L317.69 333.44 M321.37 334.18 L321.86 334.27 L322.35 334.36 L322.84 334.45 L323.34 334.54 L323.83 334.62 L324.32 334.70 L324.82 334.78 L325.31 334.86 L325.80 334.94 L326.15 334.99 M329.86 335.49 L330.36 335.55 L330.86 335.61 L331.06 335.63 M334.79 336.00 L335.29 336.04 L335.79 336.08 L336.28 336.11 L336.78 336.15 L337.28 336.18 L337.78 336.21 L338.28 336.24 L338.78 336.27 L339.28 336.29 L339.68 336.31 M343.48 336.45 L343.98 336.46 L344.48 336.47 L344.68 336.47 M348.48 336.51 L348.98 336.51 L349.48 336.51 L349.98 336.51 L350.48 336.51 L350.98 336.51 L351.48 336.50 L351.98 336.50 L352.48 336.50 L352.98 336.49 L353.43 336.49 M357.22 336.42 L357.72 336.42 L358.22 336.41 L358.42 336.40 M362.22 336.33 L362.72 336.32 L363.22 336.31 L363.72 336.30 L364.22 336.29 L364.72 336.28 L365.22 336.27 L365.72 336.26 L366.22 336.25 L366.72 336.25 L367.17 336.24 M370.97 336.21 L371.47 336.21 L371.97 336.21 L372.17 336.21 M375.97 336.24 L376.47 336.25 L376.97 336.26 L377.47 336.27 L377.97 336.29 L378.47 336.30 L378.97 336.32 L379.47 336.33 L379.97 336.35 L380.47 336.37 L380.92 336.39 M384.71 336.61 L385.21 336.65 L385.71 336.69 L385.91 336.70 M389.69 337.07 L390.19 337.13 L390.69 337.19 L391.18 337.25 L391.68 337.31 L392.17 337.38 L392.67 337.45 L393.16 337.52 L393.66 337.59 L394.15 337.67 L394.60 337.74" stroke="#00008b"/>
</g>
<g fill="none" stroke="#000" stroke-width="0.75">
<rect x="48.50" y="48.50" width="342.00" height="305.90"/>
<path d="M58.96 354.40 H344.45"/>
<path d="M58.96 354.40 V360.70"/>
<path d="M106.55 354.40 V360.70"/>
<path d="M154.10 354.40 V360.70"/>
<path d="M201.70 354.40 V360.70"/>
<path d="M249.25 354.40 V360.70"/>
<path d="M296.80 354.40 V360.70"/>
<path d="M344.45 354.40 V360.70"/>
<path d="M48.50 343.45 V90.45"/>
<path d="M48.50 343.45 H42.20"/>
<path d="M48.50 280.20 H42.20"/>
<path d="M48.50 216.60 H42.20"/>
<path d="M48.50 153.45 H42.20"/>
<path d="M48.50 90.45 H42.20"/>
</g>
<text transform="translate(58.76 376.2) scale(1 1.07)" font-size="10" text-anchor="middle">0</text>
<text transform="translate(106.35 376.2) scale(1 1.07)" font-size="10" text-anchor="middle">5</text>
<text transform="translate(153.90 376.2) scale(1 1.07)" font-size="10" text-anchor="middle">10</text>
<text transform="translate(201.50 376.2) scale(1 1.07)" font-size="10" text-anchor="middle">15</text>
<text transform="translate(249.05 376.2) scale(1 1.07)" font-size="10" text-anchor="middle">20</text>
<text transform="translate(296.60 376.2) scale(1 1.07)" font-size="10" text-anchor="middle">25</text>
<text transform="translate(344.25 376.2) scale(1 1.07)" font-size="10" text-anchor="middle">30</text>
<text transform="translate(34.65 343.75) rotate(-90) scale(1 1.1)" font-size="9.8" text-anchor="middle">0.00</text>
<text transform="translate(34.65 280.50) rotate(-90) scale(1 1.1)" font-size="9.8" text-anchor="middle">0.02</text>
<text transform="translate(34.65 216.90) rotate(-90) scale(1 1.1)" font-size="9.8" text-anchor="middle">0.04</text>
<text transform="translate(34.65 153.75) rotate(-90) scale(1 1.1)" font-size="9.8" text-anchor="middle">0.06</text>
<text transform="translate(34.65 90.75) rotate(-90) scale(1 1.1)" font-size="9.8" text-anchor="middle">0.08</text>
<text transform="translate(219.3 399.4) scale(1 1.14)" font-size="9.95" text-anchor="middle">Minutes</text>
<text transform="translate(10.5 201.1) rotate(-90) scale(1 1.14)" font-size="9.9" text-anchor="middle">Density</text>
<text transform="translate(219.1 28.8) scale(1 1.05)" font-size="12" font-weight="bold" letter-spacing="-0.26" text-anchor="middle">Time spent per exercise</text>
<rect x="293.5" y="63.85" width="79.55" height="58.95" fill="#fff" stroke="#000" stroke-width="0.75"/>
<text transform="translate(333.4 76.2) scale(1 1.1)" font-size="9.8" text-anchor="middle">Grade</text>
<text transform="translate(329.3 91.0) scale(1 1.12)" font-size="9.7">100&amp;200</text>
<text transform="translate(329.1 103.05) scale(1 1.12)" font-size="9.7">500</text>
<text transform="translate(329.1 115.3) scale(1 1.12)" font-size="9.7">600</text>
<g fill="none" stroke-width="1.5" stroke-linecap="butt">
<path d="M301.8 87.7 H320.9" stroke="#000"/>
<path d="M301.7 99.5 H320.9" stroke="#ff0000" stroke-dasharray="5 5"/>
<path d="M301.8 111.2 H320.4" stroke="#00008b" stroke-dasharray="1.25 3.75 5 3.75"/>
</g>
</svg>
</body></html>
